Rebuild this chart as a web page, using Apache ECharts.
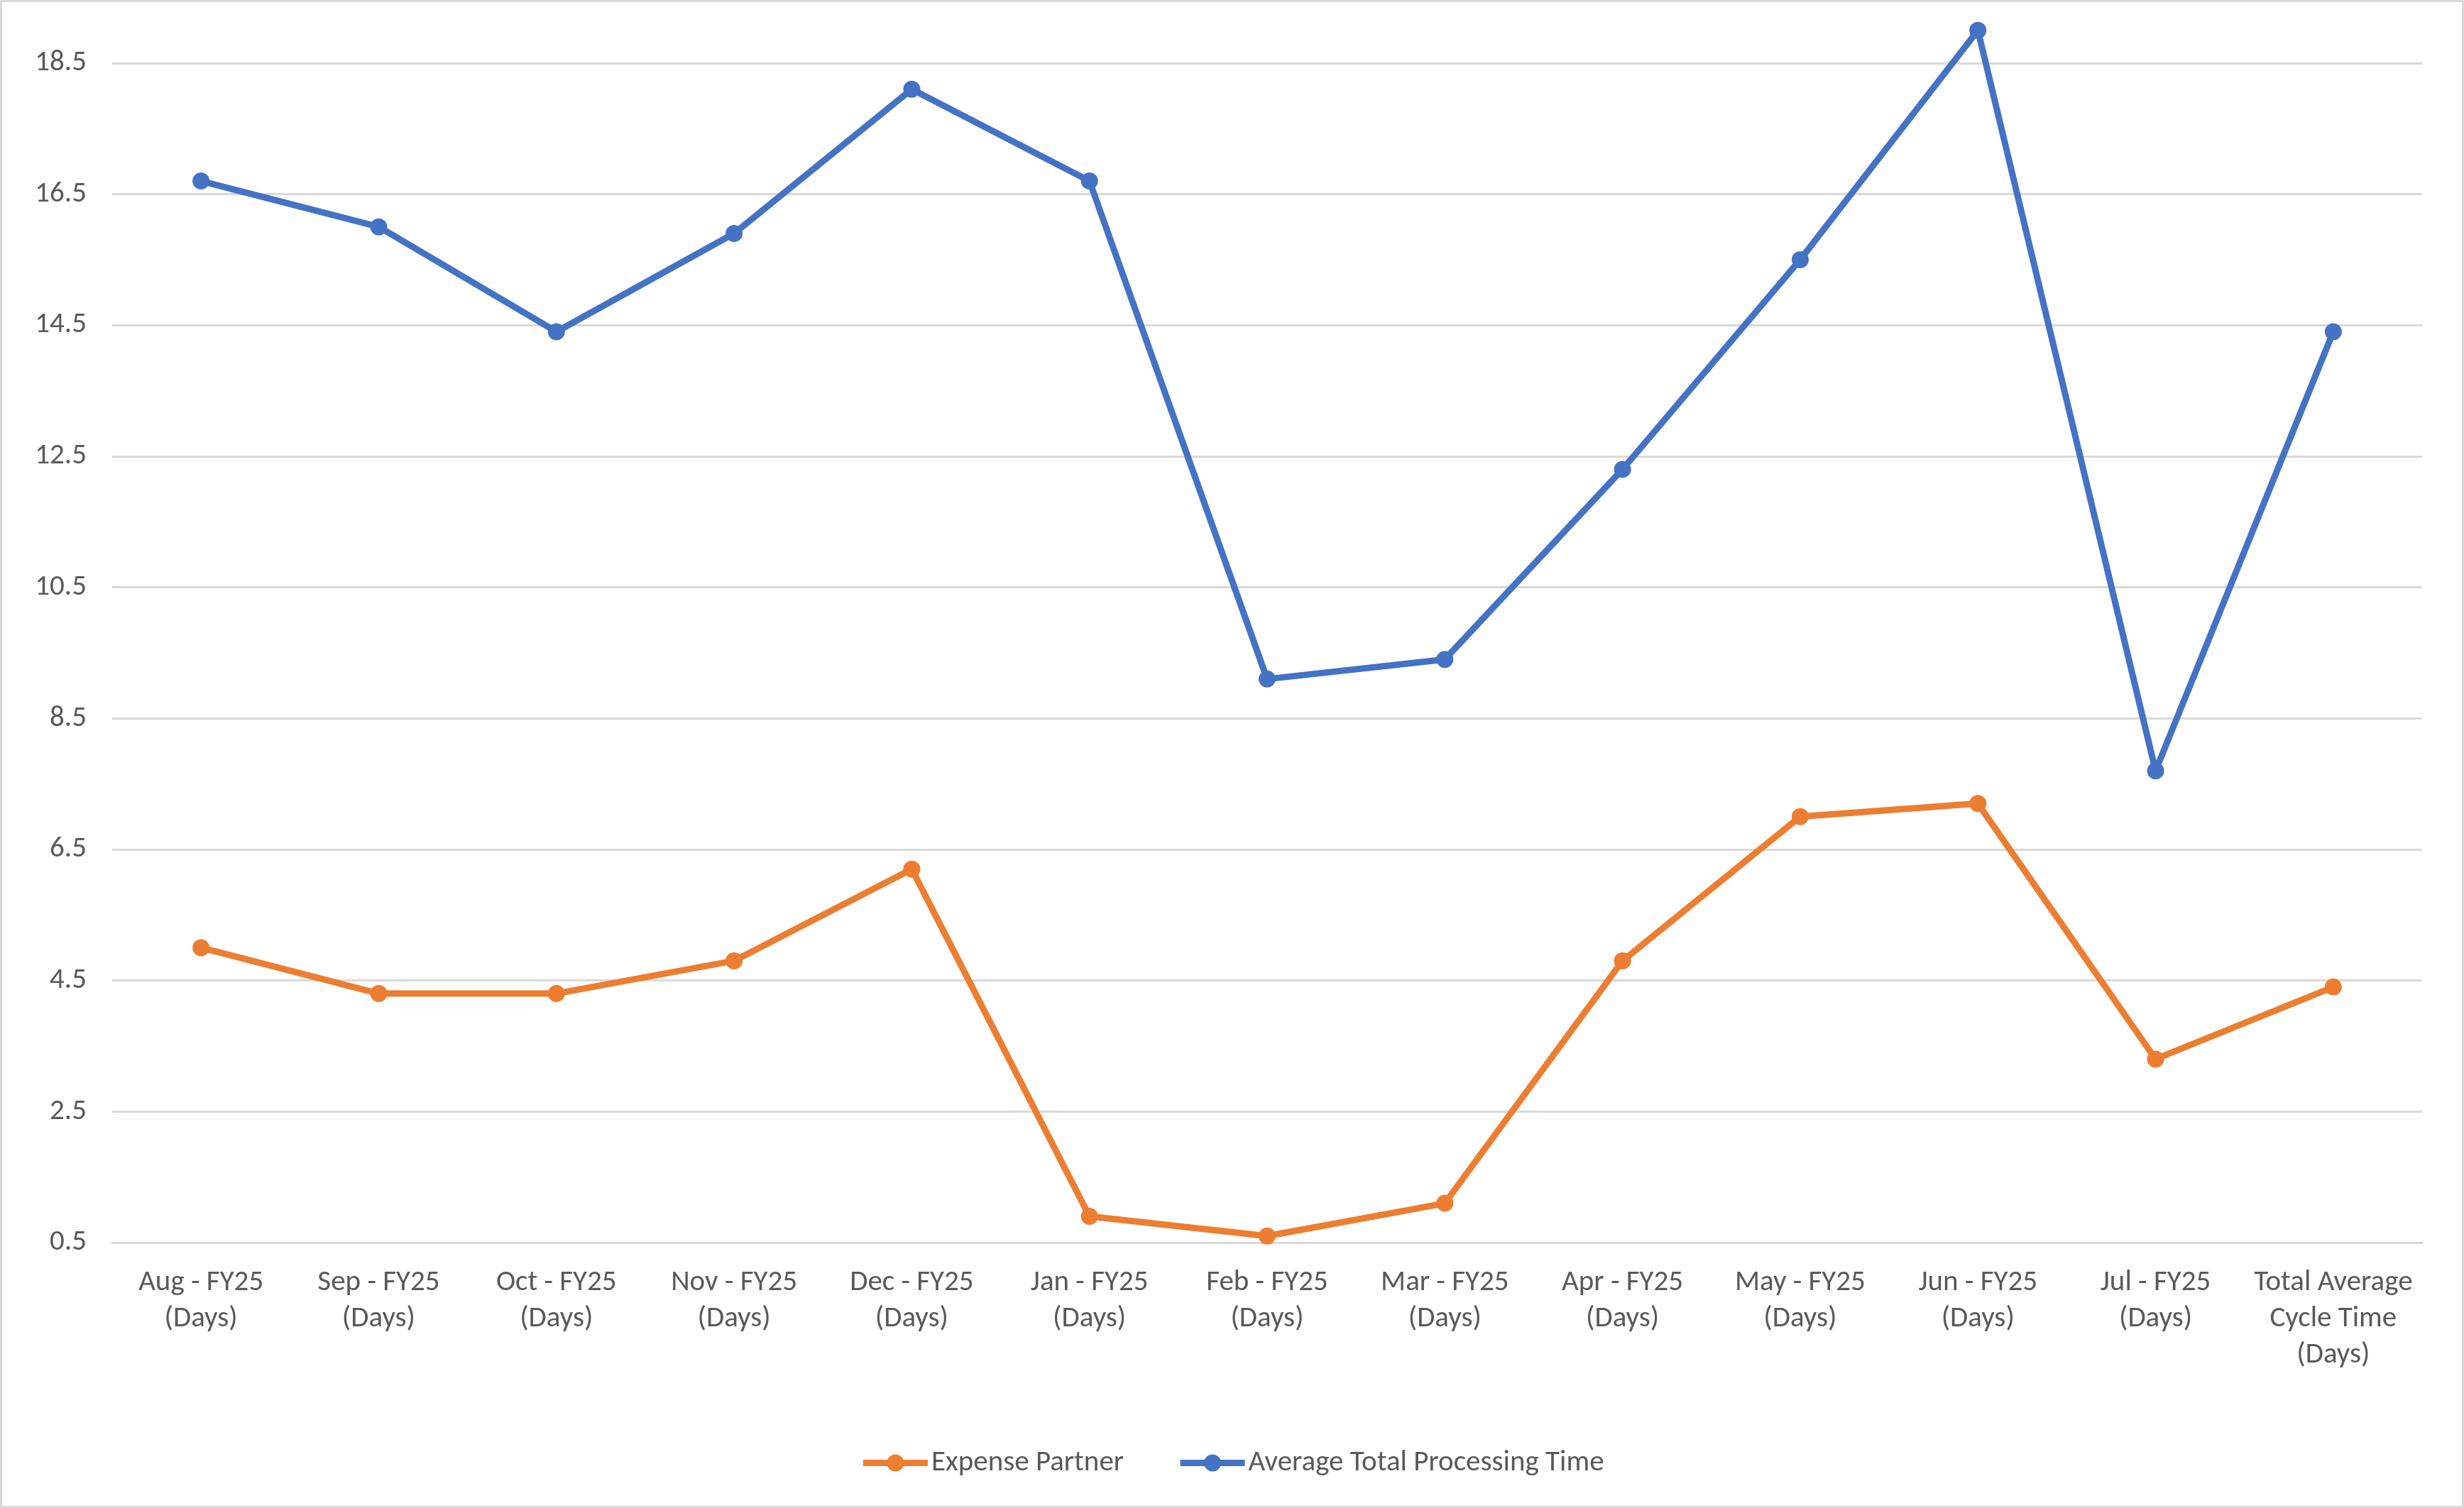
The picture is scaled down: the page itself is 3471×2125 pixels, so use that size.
<!DOCTYPE html>
<html>
<head>
<meta charset="utf-8">
<script src="https://cdn.jsdelivr.net/npm/echarts@6/dist/echarts.min.js"></script>
<style>
  html, body { margin: 0; padding: 0; background: #fff; }
  #chart { width: 3471px; height: 2125px; box-sizing: border-box; border: 3px solid #d9d9d9; }
</style>
</head>
<body>
<div id="chart"></div>
<script>
// 数据
var categories = [
  'Aug - FY25 (Days)', 'Sep - FY25 (Days)', 'Oct - FY25 (Days)', 'Nov - FY25 (Days)',
  'Dec - FY25 (Days)', 'Jan - FY25 (Days)', 'Feb - FY25 (Days)', 'Mar - FY25 (Days)',
  'Apr - FY25 (Days)', 'May - FY25 (Days)', 'Jun - FY25 (Days)', 'Jul - FY25 (Days)',
  'Total Average Cycle Time (Days)'
]
var expensePartner = [5.0, 4.3, 4.3, 4.8, 6.2, 0.9, 0.6, 1.1, 4.8, 7.0, 7.2, 3.3, 4.4]
var avgTotalProcessing = [16.7, 16.0, 14.4, 15.9, 18.1, 16.7, 9.1, 9.4, 12.3, 15.5, 19.0, 7.7, 14.4]
var seriesNames = ['Expense Partner', 'Average Total Processing Time']

var font = 'Carlito, Calibri, Lato, sans-serif'
var textColor = '#595959'

var myChart = echarts.init(document.getElementById('chart'))

var option = {
  animation: false,
  grid: {
    left: 155,
    right: 56,
    top: 12,
    bottom: 371,
    containLabel: false
  },
  legend: {
    data: seriesNames,
    bottom: 35,
    left: 'center',
    itemWidth: 91,
    itemHeight: 30,
    itemGap: 75,
    lineStyle: { width: 9 },
    textStyle: { fontFamily: font, fontSize: 41, color: textColor }
  },
  xAxis: {
    type: 'category',
    data: categories,
    boundaryGap: true,
    axisLine: { lineStyle: { color: '#d9d9d9', width: 3 } },
    axisTick: { show: false },
    axisLabel: {
      interval: 0,
      margin: 31,
      fontFamily: font,
      fontSize: 41,
      lineHeight: 51,
      color: textColor,
      formatter: function (v) {
        return v.replace('Total Average ', 'Total Average\n').replace(' (Days)', '\n(Days)')
      }
    }
  },
  yAxis: {
    type: 'value',
    min: 0.5,
    max: 19.3,
    interval: 2,
    axisLine: { show: false },
    axisTick: { show: false },
    splitLine: { showMaxLine: false, lineStyle: { color: '#d9d9d9', width: 3 } },
    axisLabel: {
      margin: 36,
      showMaxLabel: false,
      fontFamily: font,
      fontSize: 41,
      color: textColor,
      formatter: function (v) { return v.toFixed(1) }
    }
  },
  series: [
    {
      name: seriesNames[0],
      type: 'line',
      data: expensePartner,
      symbol: 'circle',
      symbolSize: 24,
      color: '#ED7D31',
      lineStyle: { width: 9, color: '#ED7D31' },
      itemStyle: { color: '#ED7D31' }
    },
    {
      name: seriesNames[1],
      type: 'line',
      data: avgTotalProcessing,
      symbol: 'circle',
      symbolSize: 24,
      color: '#4472C4',
      lineStyle: { width: 9, color: '#4472C4' },
      itemStyle: { color: '#4472C4' }
    }
  ]
}

myChart.setOption(option)
</script>
</body>
</html>
